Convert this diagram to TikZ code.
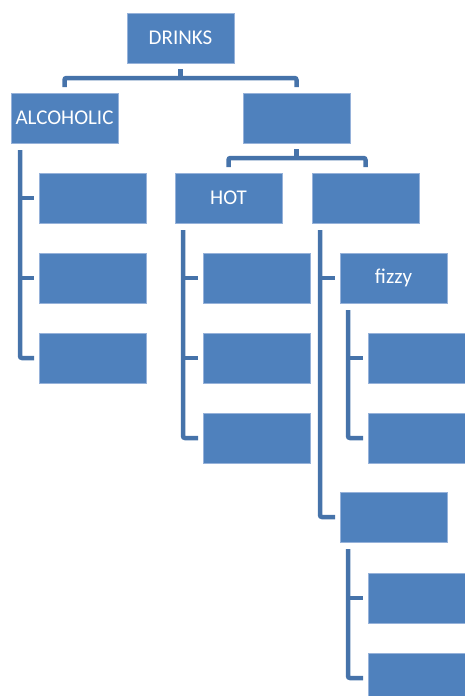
\documentclass[tikz,border=0pt]{standalone}
\usepackage{fontspec}
\setmainfont{Carlito}
\definecolor{boxblue}{RGB}{79,129,189}
\definecolor{boxedge}{RGB}{150,178,218}
\definecolor{connblue}{RGB}{70,115,170}
\begin{document}
\begin{tikzpicture}[x=1pt,y=-1pt,
  box/.style={draw=boxedge,line width=0.7pt,fill=boxblue,anchor=north west,
    minimum width=107pt,minimum height=50pt,inner sep=0pt,outer sep=0pt,
    text=white,font=\fontsize{21}{25}\selectfont},
  conn/.style={draw=connblue,line width=4.5pt,rounded corners=2pt}]
\clip (0,0) rectangle (465,696);
\useasboundingbox (0,0) rectangle (465,696);
\node[box] (drinks) at (127,13) {DRINKS};
\node[box] (alc) at (11,93) {ALCOHOLIC};
\node[box] (non) at (243,93) {};
\node[box] (a1) at (39,173) {};
\node[box] (a2) at (39,253) {};
\node[box] (a3) at (39,333) {};
\node[box] (hot) at (175,173) {HOT};
\node[box] (cold) at (312,173) {};
\node[box] (h1) at (203,253) {};
\node[box] (h2) at (203,333) {};
\node[box] (h3) at (203,413) {};
\node[box] (fizzy) at (340,253) {fizzy};
\node[box] (still) at (340,492) {};
\node[box] (f1) at (368,333) {};
\node[box] (f2) at (368,413) {};
\node[box] (s1) at (368,573) {};
\node[box] (s2) at (368,653) {};
% top level
\coordinate (d0) at ([yshift=-6pt]drinks.south);
\coordinate (dbar) at ([yshift=-15pt]drinks.south);
\draw[conn] (d0) -- (dbar);
\draw[conn] ([yshift=6pt]alc.north) |- (dbar) -| ([yshift=6pt]non.north);
% non-alcoholic
\coordinate (n0) at ([yshift=-6pt]non.south);
\coordinate (nbar) at ([yshift=-15pt]non.south);
\draw[conn] (n0) -- (nbar);
\draw[conn] ([yshift=6pt]hot.north) |- (nbar) -| ([yshift=6pt]cold.north);
% alcoholic children
\coordinate (ax) at ([xshift=9pt,yshift=-7pt]alc.south west);
\draw[conn] (ax) |- ([xshift=-5pt]a3.west);
\draw[conn,rounded corners=0pt] (ax |- a1.west) -- ([xshift=-5pt]a1.west);
\draw[conn,rounded corners=0pt] (ax |- a2.west) -- ([xshift=-5pt]a2.west);
% hot children
\coordinate (hx) at ([xshift=8pt,yshift=-7pt]hot.south west);
\draw[conn] (hx) |- ([xshift=-5pt]h3.west);
\draw[conn,rounded corners=0pt] (hx |- h1.west) -- ([xshift=-5pt]h1.west);
\draw[conn,rounded corners=0pt] (hx |- h2.west) -- ([xshift=-5pt]h2.west);
% cold children
\coordinate (cx) at ([xshift=8pt,yshift=-7pt]cold.south west);
\draw[conn] (cx) |- ([xshift=-5pt]still.west);
\draw[conn,rounded corners=0pt] (cx |- fizzy.west) -- ([xshift=-5pt]fizzy.west);
% fizzy children
\coordinate (fx) at ([xshift=8pt,yshift=-7pt]fizzy.south west);
\draw[conn] (fx) |- ([xshift=-5pt]f2.west);
\draw[conn,rounded corners=0pt] (fx |- f1.west) -- ([xshift=-5pt]f1.west);
% still children
\coordinate (sx) at ([xshift=8pt,yshift=-7pt]still.south west);
\draw[conn] (sx) |- ([xshift=-5pt]s2.west);
\draw[conn,rounded corners=0pt] (sx |- s1.west) -- ([xshift=-5pt]s1.west);
\end{tikzpicture}
\end{document}
